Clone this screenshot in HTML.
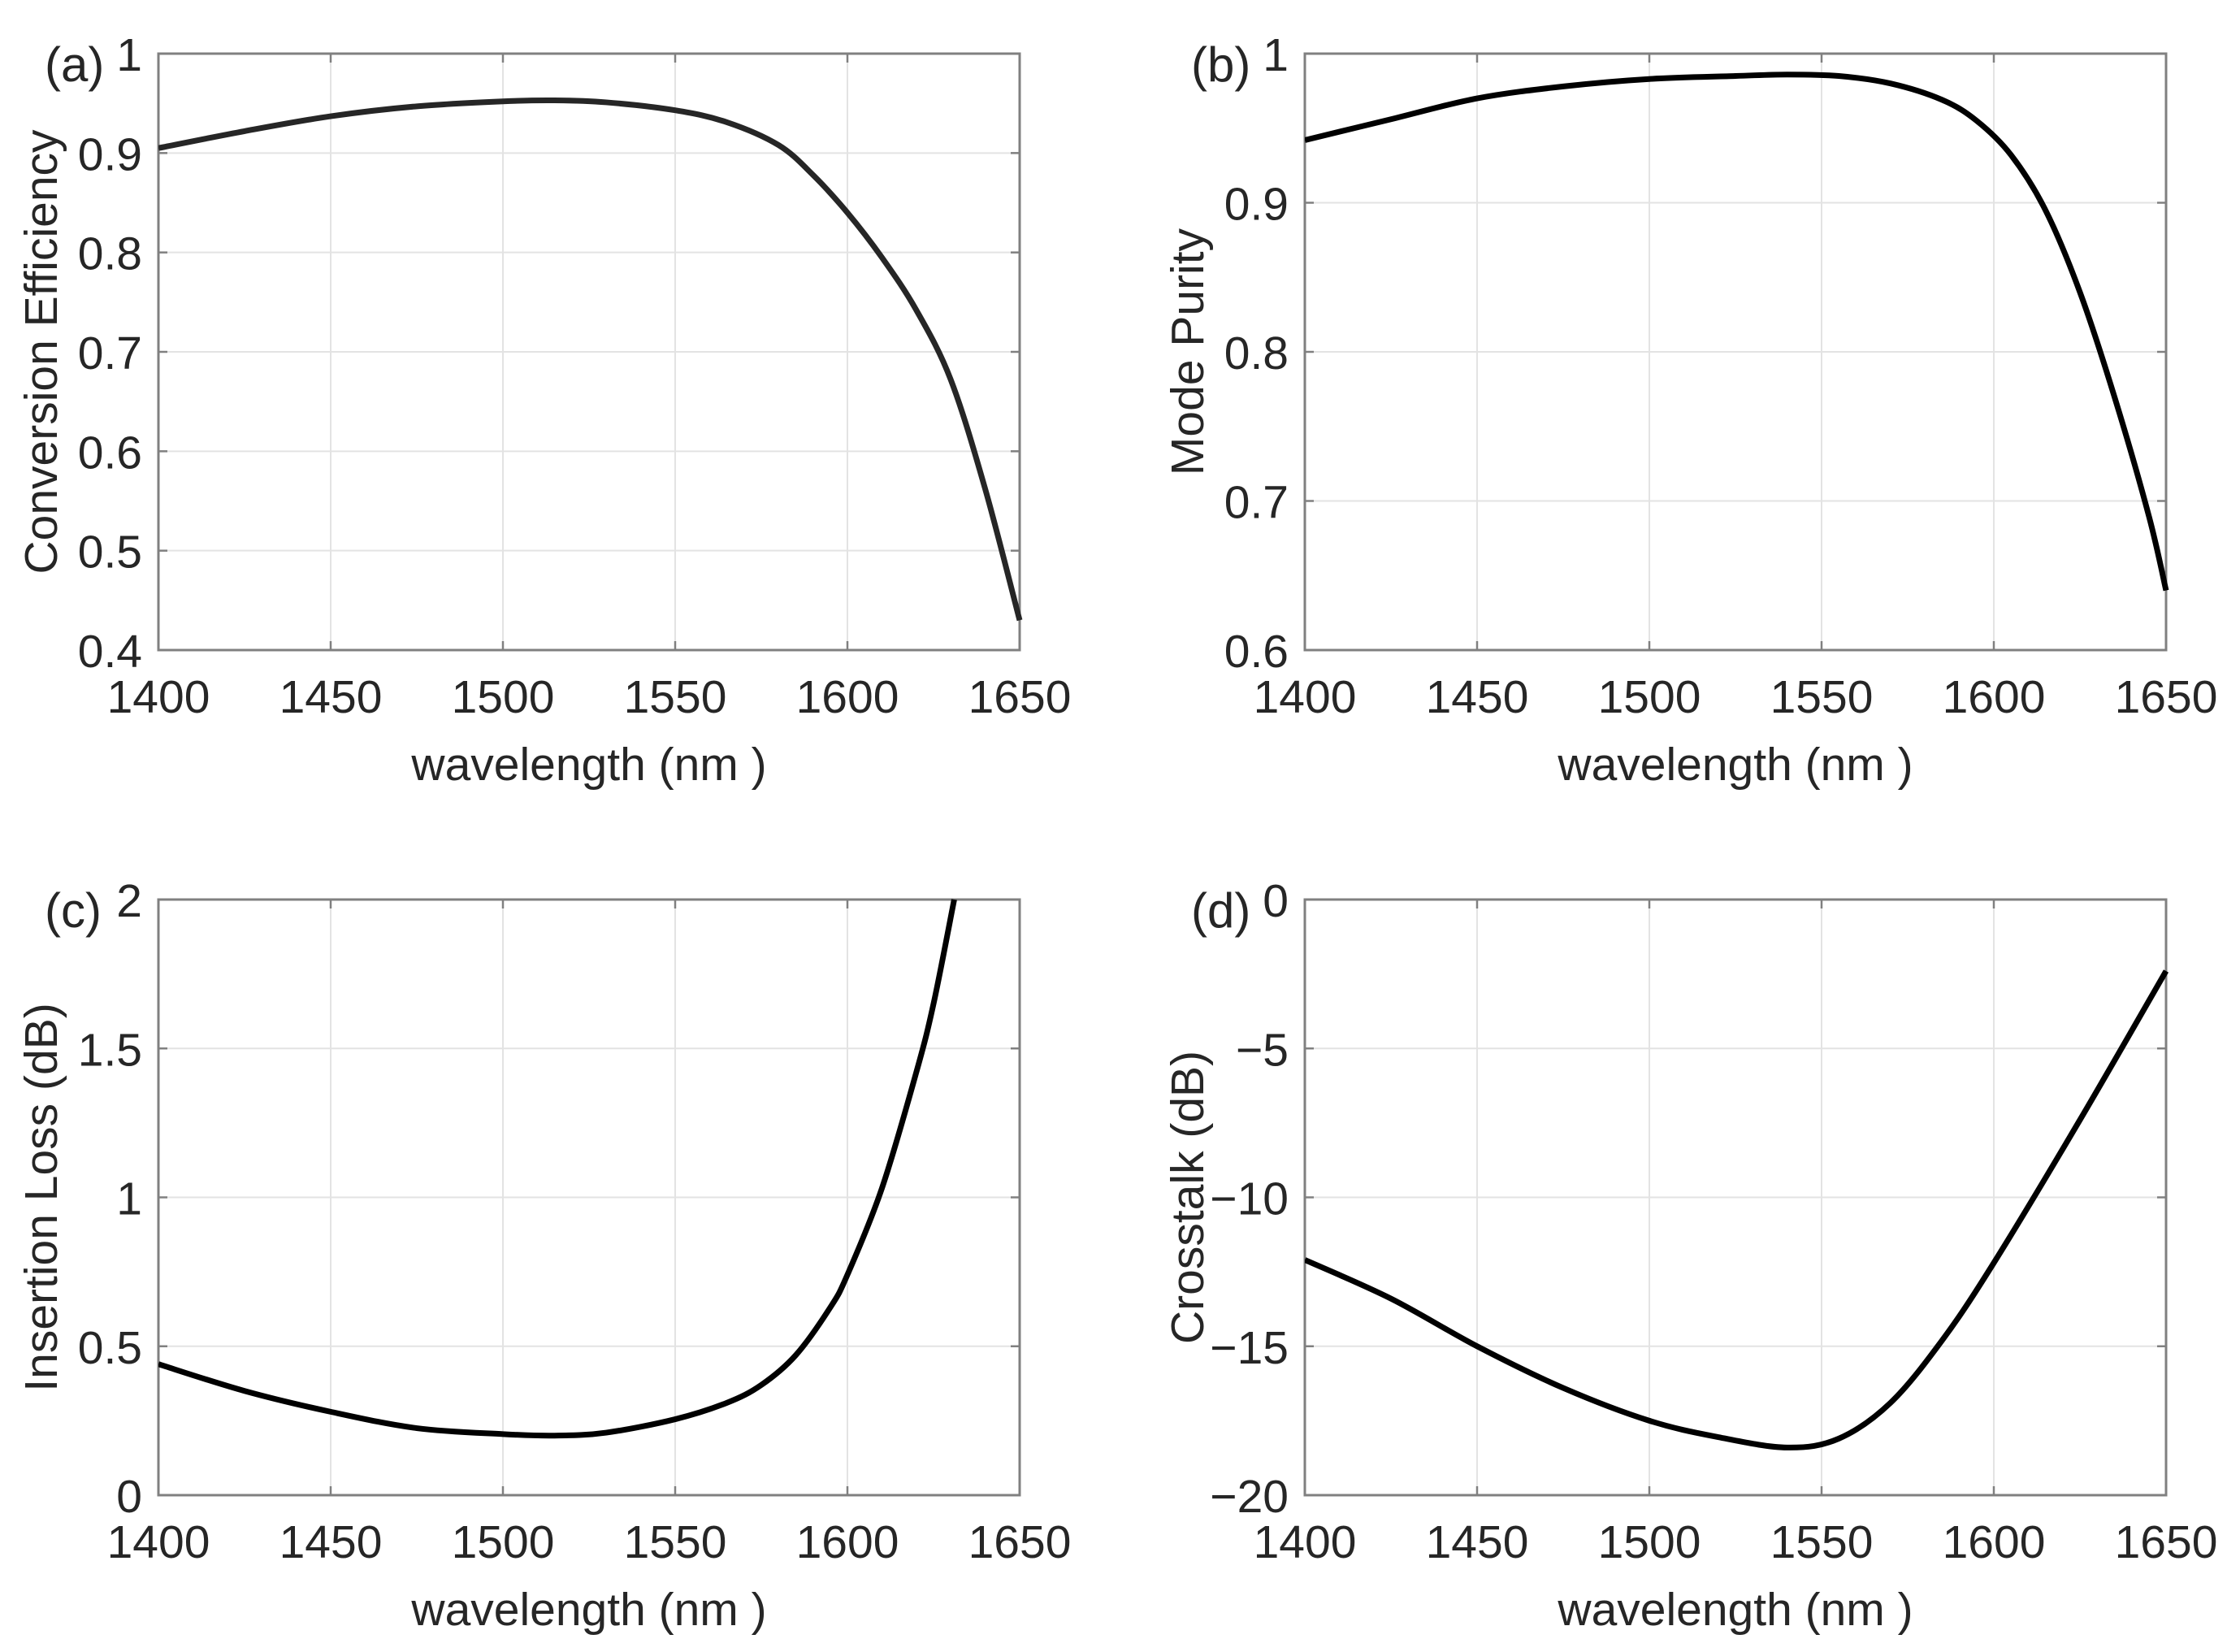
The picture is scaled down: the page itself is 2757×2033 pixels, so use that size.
<!DOCTYPE html>
<html><head><meta charset="utf-8">
<style>
html,body{margin:0;padding:0;background:#fff;}
svg text{font-family:"Liberation Sans",Arial,sans-serif;fill:#262626;}
</style></head>
<body>
<svg id="fig" width="2757" height="2028" viewBox="0 0 2757 2028" xmlns="http://www.w3.org/2000/svg"></svg>
<script>
const xTicks = [1400,1450,1500,1550,1600,1650];
const aX = [1400,1425,1450,1475,1500,1515,1530,1550,1565,1580,1590,1600,1610,1620,1630,1640,1650];
const aY = [0.905,0.922,0.937,0.947,0.952,0.953,0.951,0.943,0.931,0.908,0.878,0.84,0.795,0.742,0.672,0.562,0.43];
const bX = [1400,1425,1450,1475,1500,1525,1540,1555,1570,1585,1595,1605,1615,1625,1635,1645,1650];
const bY = [0.942,0.956,0.97,0.978,0.983,0.985,0.986,0.985,0.980,0.969,0.955,0.932,0.895,0.84,0.77,0.69,0.64];
const cX = [1400,1425,1450,1475,1500,1515,1530,1550,1565,1575,1585,1595,1600,1610,1620,1625,1631];
const cY = [0.44,0.35,0.28,0.225,0.205,0.2,0.21,0.255,0.31,0.37,0.47,0.63,0.74,1.03,1.42,1.65,2.0];
const dX = [1400,1425,1450,1475,1500,1520,1540,1555,1570,1585,1600,1625,1650];
const dY = [-12.1,-13.4,-15.0,-16.4,-17.5,-18.05,-18.4,-18.1,-16.9,-14.8,-12.2,-7.4,-2.4];
const aTicks = [0.4,0.5,0.6,0.7,0.8,0.9,1];
const aTickLabels = ['0.4','0.5','0.6','0.7','0.8','0.9','1'];
const bTicks = [0.6,0.7,0.8,0.9,1];
const bTickLabels = ['0.6','0.7','0.8','0.9','1'];
const cTicks = [0,0.5,1,1.5,2];
const cTickLabels = ['0','0.5','1','1.5','2'];
const dTicks = [-20,-15,-10,-5,0];
const dTickLabels = ['\u221220','\u221215','\u221210','\u22125','0'];

const NS='http://www.w3.org/2000/svg';
const svg=document.getElementById('fig');
function mk(tag,parent,attrs){const e=document.createElementNS(NS,tag);for(const k in attrs)e.setAttribute(k,attrs[k]);parent.appendChild(e);return e;}

function panel(id,letter,L,T,R,B,yTicks,yLabels,ylab,xs,ys,col){
  const g=mk('g',svg,{});
  
  
  const y0=yTicks[0],y1=yTicks[yTicks.length-1];
  const sx=v=>L+(v-1400)/(1650-1400)*(R-L);
  const sy=v=>B-(v-y0)/(y1-y0)*(B-T);
  xTicks.forEach(t=>{const l=mk('line',g,{x1:sx(t),x2:sx(t),y1:T,y2:B,stroke:'#e3e3e3','stroke-width':2});
    });
  yTicks.forEach(t=>{const l=mk('line',g,{x1:L,x2:R,y1:sy(t),y2:sy(t),stroke:'#e3e3e3','stroke-width':2});
    });
  xTicks.forEach(t=>{mk('line',g,{x1:sx(t),x2:sx(t),y1:B,y2:B-11,stroke:'#808080','stroke-width':2.5});mk('line',g,{x1:sx(t),x2:sx(t),y1:T,y2:T+11,stroke:'#808080','stroke-width':2.5});
    const tx=mk('text',g,{x:sx(t),y:B+77,'font-size':57,'text-anchor':'middle'});tx.textContent=t;
    });
  yTicks.forEach((t,i)=>{mk('line',g,{x1:L,x2:L+11,y1:sy(t),y2:sy(t),stroke:'#808080','stroke-width':2.5});mk('line',g,{x1:R,x2:R-11,y1:sy(t),y2:sy(t),stroke:'#808080','stroke-width':2.5});
    const tx=mk('text',g,{x:L-20,y:sy(t)+21,'font-size':57,'text-anchor':'end'});tx.textContent=yLabels[i];
    });
  const box=mk('rect',g,{x:L,y:T,width:R-L,height:B-T,fill:'none',stroke:'#808080','stroke-width':3});
  
  const P=xs.map((x,i)=>[sx(x),sy(ys[i])]);
  let d='M'+P[0][0]+','+P[0][1];
  for(let i=0;i<P.length-1;i++){const p0=P[Math.max(0,i-1)],p1=P[i],p2=P[i+1],p3=P[Math.min(P.length-1,i+2)];
    d+=' C'+(p1[0]+(p2[0]-p0[0])/6)+','+(p1[1]+(p2[1]-p0[1])/6)+' '+(p2[0]-(p3[0]-p1[0])/6)+','+(p2[1]-(p3[1]-p1[1])/6)+' '+p2[0]+','+p2[1];}
  const cp=mk('clipPath',g,{id:'clip'+id});mk('rect',cp,{x:L,y:T-4,width:R-L+4,height:B-T+8});
  const path=mk('path',g,{d:d,fill:'none',stroke:col,'stroke-width':7,'stroke-linejoin':'round','clip-path':'url(#clip'+id+')'});
  
  const xl=mk('text',g,{x:(L+R)/2,y:B+160,'font-size':57,'text-anchor':'middle','xml:space':'preserve'});xl.textContent='wavelength  (nm )';
  
  const yl=mk('text',g,{x:0,y:0,'font-size':57,'text-anchor':'middle','xml:space':'preserve',transform:'translate('+(L-125)+','+((T+B)/2)+') rotate(-90)'});yl.textContent=ylab;
  
  const pl=mk('text',g,{x:L-140,y:T+34,'font-size':60});pl.textContent='('+letter+')';
  
}
panel('a','a',195,66,1255,800,aTicks,aTickLabels,'Conversion  Efficiency',aX,aY,'#262626');
panel('b','b',1606,66,2666,800,bTicks,bTickLabels,'Mode Purity',bX,bY,'#000');
panel('c','c',195,1107,1255,1840,cTicks,cTickLabels,'Insertion Loss (dB)',cX,cY,'#000');
panel('d','d',1606,1107,2666,1840,dTicks,dTickLabels,'Crosstalk (dB)',dX,dY,'#000');
</script>
</body></html>
